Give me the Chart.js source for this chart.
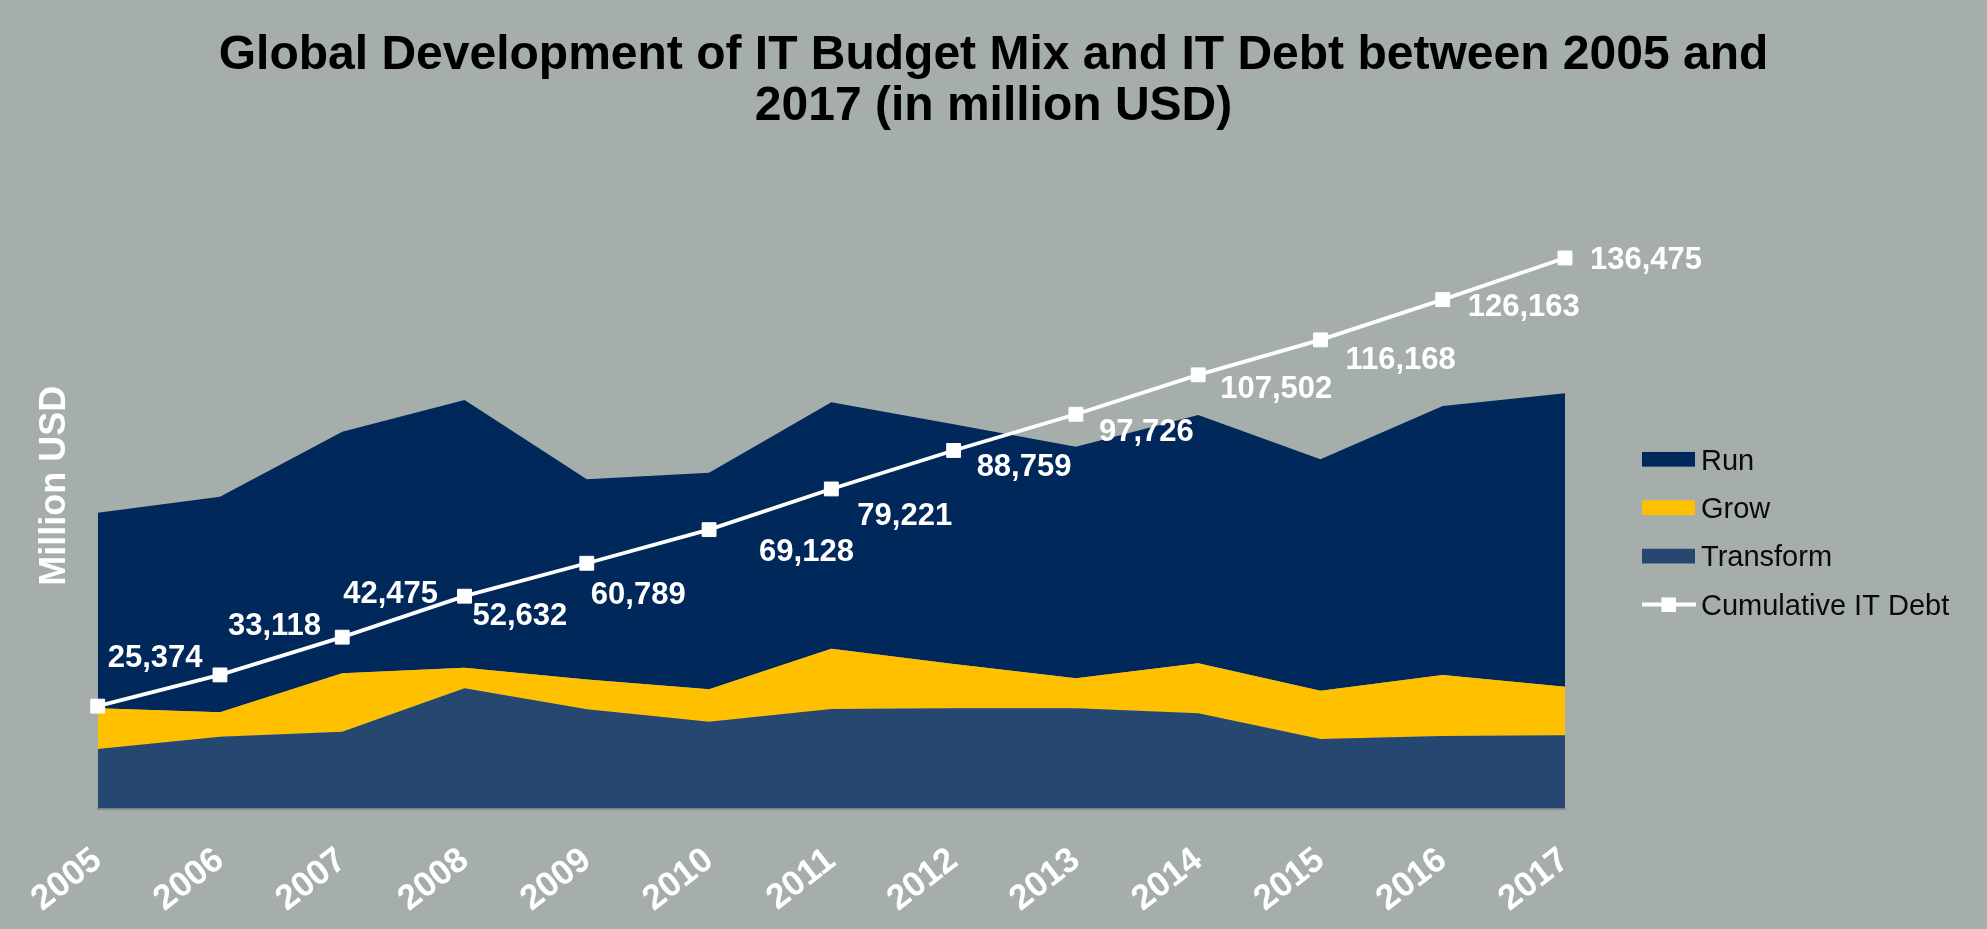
<!DOCTYPE html>
<html>
<head>
<meta charset="utf-8">
<script src="https://cdn.jsdelivr.net/npm/chart.js@4/dist/chart.umd.min.js"></script>
<style>
  html, body { margin: 0; padding: 0; background: #A6AEAC; }
  #wrap { width: 1987px; height: 929px; }
  canvas { display: block; }
</style>
</head>
<body>
<div id="wrap"><canvas id="c" width="1987" height="929"></canvas></div>
<script>
// ---- data ----
const years = ['2005','2006','2007','2008','2009','2010','2011','2012','2013','2014','2015','2016','2017'];
const transform = [14750, 17800, 19040, 29800, 24590, 21520, 24670, 24840, 24840, 23600, 17230, 17970, 18150];
const grow      = [10090,  6050, 14480,  5110,  7390,  8030, 14950, 10980,  7440, 12400, 11970, 15120, 12050];
const run       = [48490, 53450, 59890, 66360, 49630, 53700, 61080, 59420, 57410, 61550, 57360, 66690, 72730];
const debt      = [25374, 33118, 42475, 52632, 60789, 69128, 79221, 88759, 97726, 107502, 116168, 126163, 136475];
const yMax = 160000;

// ---- styling ----
const FONT = '"Liberation Sans", Arial, Helvetica, sans-serif';
const COLORS = { run: '#00285A', grow: '#FFC000', transform: '#264870', debt: '#FFFFFF', bg: '#A6AEAC' };
// label offsets (relative to each point, in px) for debt value labels
const labelOffsets = [[10,-50],[8,-51],[1,-45],[8,18],[4,30],[50,20],[26,25],[23,14],[23,16],[22,12],[25,18],[25,5],[25,0]];

const bgPlugin = {
  id: 'bg',
  beforeDraw(chart) {
    const ctx = chart.ctx;
    ctx.save();
    ctx.fillStyle = COLORS.bg;
    ctx.fillRect(0, 0, chart.width, chart.height);
    ctx.restore();
  }
};

const debtLabels = {
  id: 'debtLabels',
  afterDatasetsDraw(chart) {
    const idx = chart.data.datasets.findIndex(d => d.id === 'debt');
    const meta = chart.getDatasetMeta(idx);
    const ctx = chart.ctx;
    const size = 31;
    ctx.save();
    ctx.font = 'bold ' + size + 'px ' + FONT;
    ctx.fillStyle = '#FFFFFF';
    ctx.textAlign = 'left';
    ctx.textBaseline = 'alphabetic';
    meta.data.forEach((pt, i) => {
      const off = labelOffsets[i];
      const txt = debt[i].toLocaleString('en-US');
      ctx.fillText(txt, pt.x + off[0], pt.y + off[1] + size * 0.358);
    });
    ctx.restore();
  }
};

const customLegend = {
  id: 'customLegend',
  afterDraw(chart) {
    const ctx = chart.ctx;
    const items = [
      { label: 'Run', color: COLORS.run, type: 'box' },
      { label: 'Grow', color: COLORS.grow, type: 'box' },
      { label: 'Transform', color: COLORS.transform, type: 'box' },
      { label: 'Cumulative IT Debt', color: COLORS.debt, type: 'line' }
    ];
    const x0 = 1642, sw = 53, sh = 14.7, textX = 1701, y0 = 459.3, step = 48.4, size = 29;
    ctx.save();
    ctx.font = size + 'px ' + FONT;
    ctx.textAlign = 'left';
    ctx.textBaseline = 'alphabetic';
    items.forEach((it, i) => {
      const cy = y0 + i * step;
      if (it.type === 'box') {
        ctx.fillStyle = it.color;
        ctx.fillRect(x0, cy - sh / 2, sw, sh);
      } else {
        ctx.strokeStyle = it.color;
        ctx.lineWidth = 3.8;
        ctx.beginPath();
        ctx.moveTo(x0, cy);
        ctx.lineTo(x0 + sw + 1, cy);
        ctx.stroke();
        ctx.fillStyle = it.color;
        ctx.fillRect(x0 + sw / 2 - 7, cy - 7, 14.5, 14.5);
      }
      ctx.fillStyle = '#0A0A0A';
      ctx.fillText(it.label, textX, cy + size * 0.358);
    });
    ctx.restore();
  }
};

const areaCommon = { borderWidth: 0, borderColor: 'rgba(0,0,0,0)', pointRadius: 0, pointHoverRadius: 0, tension: 0, yAxisID: 'y', stack: 'budget', order: 1 };

new Chart(document.getElementById('c'), {
  type: 'line',
  data: {
    labels: years,
    datasets: [
      Object.assign({ label: 'Transform', data: transform, backgroundColor: COLORS.transform, fill: 'origin' }, areaCommon),
      Object.assign({ label: 'Grow', data: grow, backgroundColor: COLORS.grow, fill: '-1' }, areaCommon),
      Object.assign({ label: 'Run', data: run, backgroundColor: COLORS.run, fill: '-1' }, areaCommon),
      {
        id: 'debt', label: 'Cumulative IT Debt', data: debt, yAxisID: 'y1', order: 0, clip: false,
        borderColor: COLORS.debt, borderWidth: 3.8, tension: 0, fill: false,
        pointStyle: 'rect', pointRadius: 9.8, pointBorderWidth: 1,
        pointBackgroundColor: COLORS.debt, pointBorderColor: COLORS.debt
      }
    ]
  },
  options: {
    responsive: false,
    animation: false,
    events: [],
    layout: { padding: { left: 0, right: 0, top: 0, bottom: 0 } },
    plugins: {
      legend: { display: false },
      tooltip: { enabled: false },
      title: {
        display: true,
        text: ['Global Development of IT Budget Mix and IT Debt between 2005 and', '2017 (in million USD)'],
        color: '#000000',
        font: { family: FONT, size: 48, weight: 'bold', lineHeight: 1.056 },
        padding: { top: 30.6, bottom: 31.1 }
      }
    },
    scales: {
      x: {
        grid: { display: false },
        border: { display: true, color: '#878E8D', width: 2 },
        ticks: {
          color: '#FFFFFF', autoSkip: false, minRotation: 38, maxRotation: 38, padding: 23,
          font: { family: FONT, size: 35, weight: 'bold' }
        },
        afterFit(scale) { scale.height = 120.5; }
      },
      y: {
        stacked: true, min: 0, max: yMax,
        grid: { display: false },
        border: { display: false },
        ticks: { display: false },
        title: {
          display: true, text: 'Million USD', color: '#FFFFFF',
          font: { family: FONT, size: 36, weight: 'bold', lineHeight: 1.2 },
          padding: { top: 33.4, bottom: 21 }
        },
        afterFit(scale) { scale.width = 97.7; }
      },
      y1: {
        position: 'right', stacked: false, min: 0, max: yMax,
        grid: { display: false },
        border: { display: false },
        ticks: { display: false },
        afterFit(scale) { scale.width = 422; }
      }
    }
  },
  plugins: [bgPlugin, debtLabels, customLegend]
});
</script>
</body>
</html>
